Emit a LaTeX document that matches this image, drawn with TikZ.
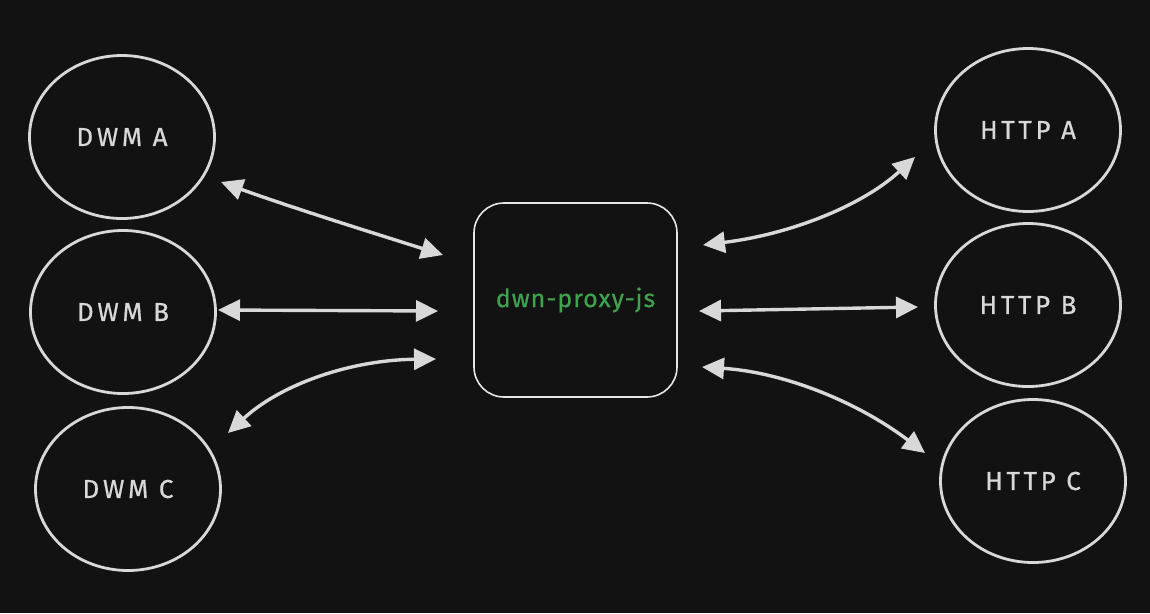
\documentclass[tikz,border=0pt]{standalone}
\usepackage{fontspec}
\setmainfont{Fira Sans}
\usetikzlibrary{shapes.geometric,arrows.meta}
\definecolor{bg}{HTML}{121212}
\definecolor{ink}{HTML}{D8D8D8}
\definecolor{boxink}{HTML}{E6E6E6}
\definecolor{proxygreen}{HTML}{3FA34D}
\tikzset{
  peer/.style={ellipse, draw=ink, line width=2.8pt, inner sep=0pt,
    minimum width=185pt, minimum height=163pt, text=ink,
    font=\fontsize{26}{30}\selectfont\addfontfeature{LetterSpace=14,FakeBold=0.6}},
  hub/.style={rectangle, rounded corners=30pt, draw=boxink, line width=1.6pt,
    minimum width=203pt, minimum height=194pt, inner sep=0pt, text=proxygreen,
    font=\fontsize{25}{30}\selectfont\addfontfeature{LetterSpace=4,FakeBold=0.6}},
  link/.style={draw=ink, line width=3.4pt,
    {Triangle[length=22pt,width=21pt]}-{Triangle[length=22pt,width=21pt]}}
}
\begin{document}
\begin{tikzpicture}[x=1pt,y=-1pt]
\fill[bg] (0,0) rectangle (1150,613);
\useasboundingbox (0,0) rectangle (1150,613);

\node[peer] (dwma) at (122,137) {DWM A};
\node[peer] (dwmb) at (123,312) {DWM B};
\node[peer] (dwmc) at (128,489) {DWM C};
\node[peer] (httpa) at (1028,130) {HTTP A};
\node[peer] (httpb) at (1028,305) {HTTP B};
\node[peer] (httpc) at (1033,481) {HTTP C};
\node[hub] (proxy) at (575.5,300) {dwn-proxy-js};

% free ends of the connectors
\coordinate (ae) at (221,182);
\coordinate (ap) at (443,255);
\coordinate (be) at (218,310);
\coordinate (bp) at (438,311);
\coordinate (ce) at (228,433);
\coordinate (cp) at (436,359);
\coordinate (hap) at (703,245);
\coordinate (hae) at (915,157);
\coordinate (hbp) at (699,311);
\coordinate (hbe) at (918,307);
\coordinate (hcp) at (702,367);
\coordinate (hce) at (925,453);

\draw[link] (ae) .. controls (290,207) and (370,232) .. (ap);
\draw[link] (be) -- (bp);
\draw[link] (ce) .. controls (281,384) and (351,360) .. (cp);
\draw[link] (hap) .. controls (792,234) and (863,205) .. (hae);
\draw[link] (hbp) -- (hbe);
\draw[link] (hcp) .. controls (781,372) and (855,400) .. (hce);
\end{tikzpicture}
\end{document}
